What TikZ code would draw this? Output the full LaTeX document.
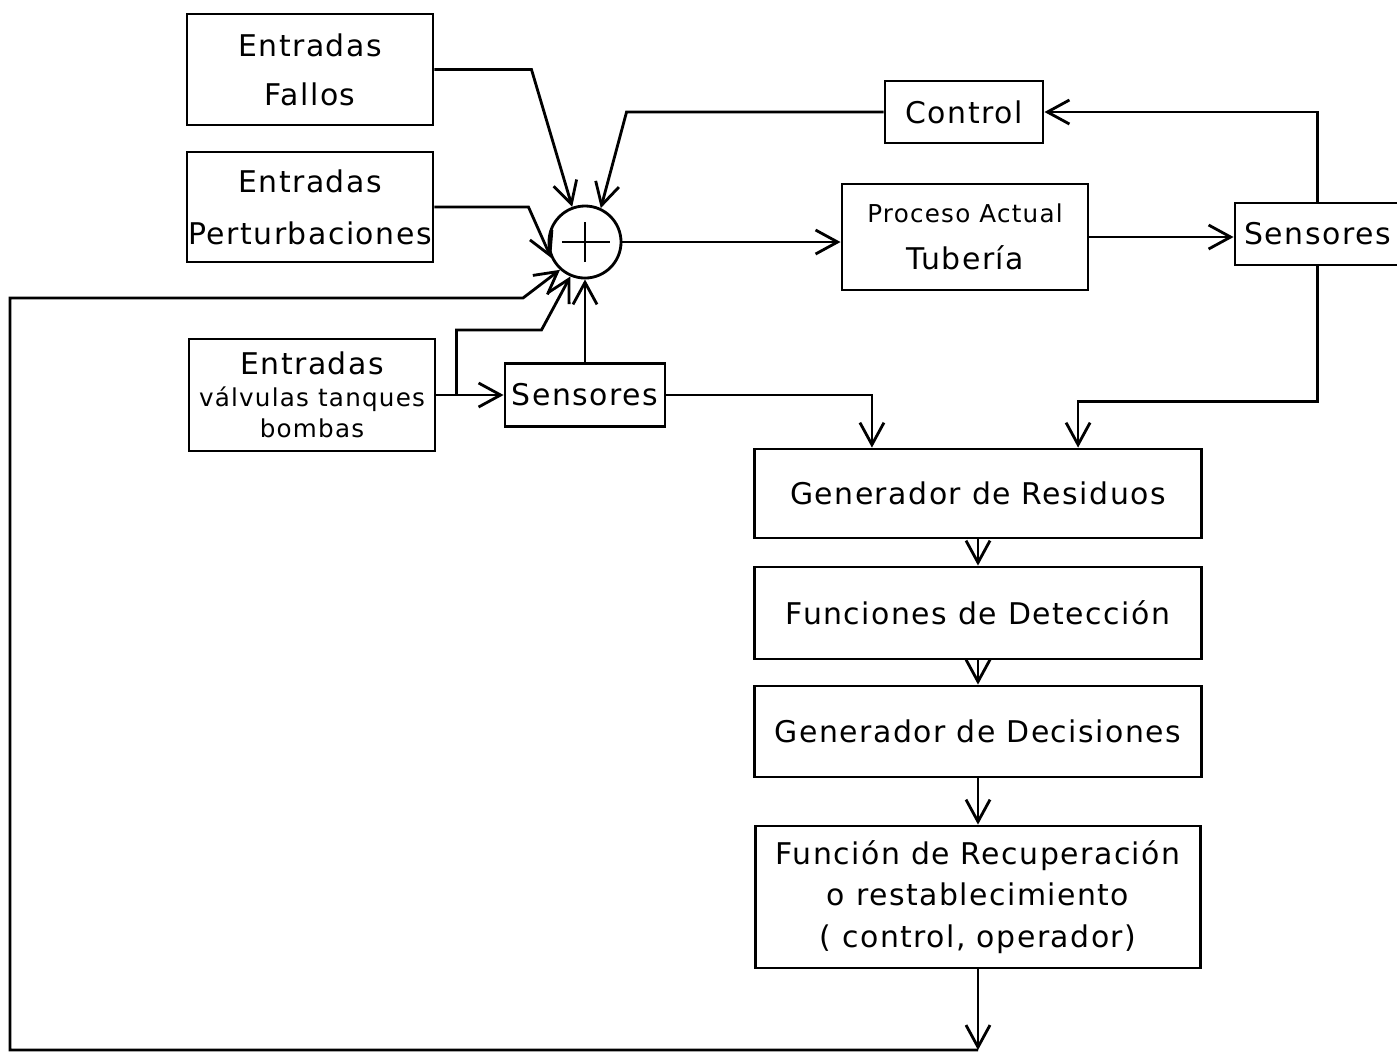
\documentclass[tikz,border=0pt]{standalone}
\usepackage{fontspec}
\setmainfont[LetterSpace=5]{DejaVu Sans}
\usetikzlibrary{arrows.meta}

\begin{document}
\begin{tikzpicture}[x=0.01cm,y=-0.01cm,line width=0.8pt,
    blk/.style={draw,inner sep=0pt,align=center,font=\fontsize{8.5}{14}\selectfont},
    tip/.style={-{Straight Barb[length=0.22cm,width=0.24cm]}}]
  \useasboundingbox (0,0) rectangle (1397,1053);
  \draw
    (310,69.5) node[blk,minimum width=2.46cm,minimum height=1.11cm] (fallos){Entradas\\Fallos}
    (310,207) node[blk,minimum width=2.46cm,minimum height=1.10cm,font=\fontsize{8.5}{14.7}\selectfont] (pert){Entradas\\Perturbaciones}
    (312,395) node[blk,minimum width=2.46cm,minimum height=1.12cm,font=\fontsize{8.5}{9}\selectfont] (valv){Entradas\\{\fontsize{7}{9}\selectfont válvulas tanques}\\{\fontsize{7}{9}\selectfont bombas}}
    (585,242) node[circle,draw,minimum size=0.72cm,inner sep=0pt] (sum){}
    (964,112) node[blk,minimum width=1.58cm,minimum height=0.62cm] (control){Control}
    (965,237) node[blk,minimum width=2.46cm,minimum height=1.06cm,font=\fontsize{7}{13.3}\selectfont] (proc){Proceso Actual\\{\fontsize{8.5}{13.3}\selectfont Tubería}}
    (1317.5,234) node[blk,minimum width=1.65cm,minimum height=0.62cm] (sensR){Sensores}
    (585,395) node[blk,minimum width=1.60cm,minimum height=0.63cm] (sensL){Sensores}
    (978,493.5) node[blk,minimum width=4.46cm,minimum height=0.89cm] (resid){Generador de Residuos}
    (978,613) node[blk,minimum width=4.47cm,minimum height=0.92cm] (detec){Funciones de Detección}
    (978,731.5) node[blk,minimum width=4.47cm,minimum height=0.91cm] (decis){Generador de Decisiones}
    (978,897) node[blk,minimum width=4.45cm,minimum height=1.42cm,font=\fontsize{8.5}{11.8}\selectfont] (recup){Función de Recuperación\\o restablecimiento\\( control, operador)};
  \draw ([xshift=-0.23cm]sum.center) -- ([xshift=0.25cm]sum.center)
    ([yshift=-0.2cm]sum.center) -- ([yshift=0.2cm]sum.center);
  \coordinate (fb) at (978,1050);
  \begin{scope}[tip]
    \draw (fallos.east) -- ++(97,0) -- (sum.110);
    \draw (control.west) -- ++(-257,0) -- (sum.65);
    \draw (pert.east) -- ++(94,0) -- (sum.205);
    \draw (recup.south) -- (fb);
    \draw (fb) -| (10,298) -- (523,298) -- (sum.228);
    \draw (valv.east) -- ++(20,0) coordinate (vj) -- (sensL.west);
    \draw (vj) -- ++(0,-65) -- ++(85,0) -- (sum.247);
    \draw (sensL.north) -- (sum.south);
    \draw (sum.east) -- (sum.east -| proc.west);
    \draw (proc.east) -- (proc.east -| sensR.west);
    \draw (sensR.north) |- (control.east);
    \draw (sensR.south) -- ++(0,135) -| ([xshift=1cm]resid.north);
    \draw (sensL.east) -| ([xshift=-1.06cm]resid.north);
    \draw (resid.south) -- (detec.north);
    \draw (detec.south) -- (decis.north);
    \draw (decis.south) -- (recup.north);
  \end{scope}
\end{tikzpicture}
\end{document}
